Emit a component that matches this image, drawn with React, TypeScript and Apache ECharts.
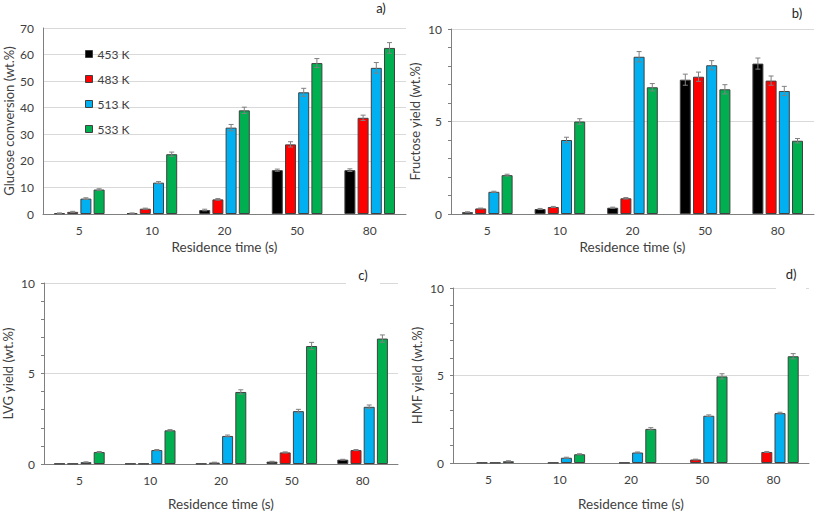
import React, { useEffect, useRef } from "react";
import * as echarts from "echarts";

const categories = ["5", "10", "20", "50", "80"];
const seriesNames = ["453 K", "483 K", "513 K", "533 K"];
const colors = ["#000000", "#ff0000", "#00b0f0", "#00b050"];

// a) Glucose conversion
const glucose453 = [0.3, 0.3, 1.5, 16.5, 16.5];
const glucose483 = [0.8, 2.0, 5.5, 26.2, 36.2];
const glucose513 = [5.8, 11.8, 32.5, 45.8, 55.0];
const glucose533 = [9.2, 22.5, 39.0, 56.8, 62.5];
const glucoseErr453 = [0.1, 0.1, 0.3, 0.4, 0.5];
const glucoseErr483 = [0.2, 0.2, 0.3, 1.0, 1.0];
const glucoseErr513 = [0.3, 0.4, 1.2, 1.5, 2.0];
const glucoseErr533 = [0.3, 0.8, 1.2, 1.7, 2.0];

// b) Fructose yield
const fructose453 = [0.1, 0.27, 0.34, 7.26, 8.13];
const fructose483 = [0.3, 0.38, 0.85, 7.42, 7.21];
const fructose513 = [1.2, 4.0, 8.5, 8.04, 6.65];
const fructose533 = [2.1, 5.0, 6.85, 6.74, 3.96];
const fructoseErr453 = [0.02, 0.03, 0.03, 0.3, 0.3];
const fructoseErr483 = [0.02, 0.03, 0.04, 0.25, 0.25];
const fructoseErr513 = [0.03, 0.15, 0.28, 0.25, 0.25];
const fructoseErr533 = [0.05, 0.15, 0.2, 0.25, 0.12];

// c) LVG yield
const lvg453 = [0.02, 0.02, 0.02, 0.13, 0.24];
const lvg483 = [0.02, 0.02, 0.08, 0.64, 0.77];
const lvg513 = [0.1, 0.77, 1.55, 2.92, 3.16];
const lvg533 = [0.66, 1.86, 3.98, 6.52, 6.93];
const lvgErr453 = [0, 0, 0, 0.02, 0.02];
const lvgErr483 = [0, 0, 0.02, 0.03, 0.03];
const lvgErr513 = [0.02, 0.03, 0.05, 0.1, 0.1];
const lvgErr533 = [0.03, 0.04, 0.12, 0.2, 0.2];

// d) HMF yield
const hmf453: (number | string)[] = ["-", "-", "-", "-", "-"];
const hmf483 = [0.02, 0.02, 0.02, 0.2, 0.63];
const hmf513 = [0.02, 0.3, 0.6, 2.7, 2.85];
const hmf533 = [0.1, 0.5, 1.95, 4.95, 6.1];
const hmfErr453 = [0, 0, 0, 0, 0];
const hmfErr483 = [0, 0, 0, 0.02, 0.03];
const hmfErr513 = [0, 0.03, 0.03, 0.05, 0.05];
const hmfErr533 = [0.03, 0.03, 0.07, 0.15, 0.15];

const yTicksA = { min: 0, max: 70, interval: 10 };
const yTicksOther = { min: 0, max: 10, interval: 5 };

const panelNames = [
  "Glucose conversion (wt.%)",
  "Fructose yield (wt.%)",
  "LVG yield (wt.%)",
  "HMF yield (wt.%)",
];
const panelLabels = ["a)", "b)", "c)", "d)"];

const panelValues = [
  [glucose453, glucose483, glucose513, glucose533],
  [fructose453, fructose483, fructose513, fructose533],
  [lvg453, lvg483, lvg513, lvg533],
  [hmf453, hmf483, hmf513, hmf533],
];
const panelErrors = [
  [glucoseErr453, glucoseErr483, glucoseErr513, glucoseErr533],
  [fructoseErr453, fructoseErr483, fructoseErr513, fructoseErr533],
  [lvgErr453, lvgErr483, lvgErr513, lvgErr533],
  [hmfErr453, hmfErr483, hmfErr513, hmfErr533],
];

const FONT = "Lato";
const BAR_W = 11;
const BAR_GAP = 0.2;

export default function App() {
  const ref = useRef<HTMLDivElement>(null);
  useEffect(() => {
    if (!ref.current) return;
    const chart = echarts.init(ref.current, null, { renderer: "svg" });

    const grids = [
      { left: 43, top: 28, width: 363, height: 186 },
      { left: 451, top: 29, width: 363, height: 185 },
      { left: 40, top: 283, width: 358, height: 183 },
      { left: 453, top: 288, width: 356, height: 182 },
    ];
    const xNameGaps = [26, 26, 33, 34];

    const xAxes = grids.map((_, i) => ({
      type: "category",
      gridIndex: i,
      data: categories,
      name: "Residence time (s)",
      nameLocation: "middle",
      nameGap: xNameGaps[i],
      nameTextStyle: { fontFamily: FONT, fontSize: 13.5, color: "#404040" },
      axisLine: { lineStyle: { color: "#7f7f7f", width: 1 } },
      axisTick: { show: false },
      axisLabel: { fontFamily: FONT, fontSize: 12, color: "#404040", margin: 10 },
    }));

    const yAxes = grids.map((_, i) => {
      const t = i === 0 ? yTicksA : yTicksOther;
      return {
        type: "value",
        gridIndex: i,
        min: t.min,
        max: t.max,
        interval: t.interval,
        name: panelNames[i],
        nameLocation: "middle",
        nameGap: i === 0 ? 28 : 30,
        nameTextStyle: { fontFamily: FONT, fontSize: 13, color: "#404040" },
        axisLine: { show: true, lineStyle: { color: "#7f7f7f", width: 1 } },
        axisTick: { show: i !== 0, length: 3, lineStyle: { color: "#7f7f7f" } },
        minorTick: {
          show: i !== 0,
          splitNumber: 5,
          length: 3,
          lineStyle: { color: "#7f7f7f" },
        },
        axisLabel: { fontFamily: FONT, fontSize: 12, color: "#404040", margin: 9 },
        splitLine: { show: true, lineStyle: { color: "#d9d9d9", width: 1 } },
      };
    });

    const series: any[] = [];
    for (let p = 0; p < 4; p++) {
      for (let s = 0; s < 4; s++) {
        series.push({
          type: "bar",
          name: seriesNames[s],
          xAxisIndex: p,
          yAxisIndex: p,
          data: panelValues[p][s],
          barWidth: BAR_W,
          barGap: BAR_GAP * 100 + "%",
          itemStyle: { color: colors[s], borderColor: "#404040", borderWidth: 1 },
          z: 2,
        });
      }
      for (let s = 0; s < 4; s++) {
        const vals = panelValues[p][s];
        const errs = panelErrors[p][s];
        const data = vals
          .map((v, k) => (typeof v === "number" ? [k, v, errs[k]] : null))
          .filter((d) => d !== null);
        series.push({
          type: "custom",
          xAxisIndex: p,
          yAxisIndex: p,
          encode: { x: 0, y: 1 },
          silent: true,
          z: 5,
          data,
          renderItem: (params: any, api: any) => {
            const k = api.value(0);
            const v = api.value(1);
            const e = api.value(2);
            if (!e) return null;
            const gap = BAR_W * BAR_GAP;
            const total = 4 * BAR_W + 3 * gap;
            const off = -total / 2 + BAR_W / 2 + s * (BAR_W + gap);
            const top = api.coord([k, v + e]);
            const bot = api.coord([k, v - e]);
            const x = top[0] + off;
            const cap = 2.5;
            const style = { stroke: "#808080", lineWidth: 1 };
            return {
              type: "group",
              children: [
                { type: "line", shape: { x1: x, y1: top[1], x2: x, y2: bot[1] }, style },
                { type: "line", shape: { x1: x - cap, y1: top[1], x2: x + cap, y2: top[1] }, style },
                { type: "line", shape: { x1: x - cap, y1: bot[1], x2: x + cap, y2: bot[1] }, style },
              ],
            };
          },
        });
      }
    }

    const labelPos = [
      [381, 8],
      [797, 13],
      [363, 275],
      [791, 274],
    ];

    chart.setOption({
      animation: false,
      backgroundColor: "#ffffff",
      grid: grids,
      xAxis: xAxes,
      yAxis: yAxes,
      legend: {
        left: 80,
        top: 43,
        orient: "vertical",
        itemWidth: 7,
        itemHeight: 7,
        itemGap: 13,
        icon: "rect",
        data: seriesNames,
        textStyle: { fontFamily: FONT, fontSize: 12, color: "#404040" },
        itemStyle: { borderColor: "#404040", borderWidth: 1 },
        selectedMode: false,
      },
      graphic: [
        { type: "rect", shape: { x: 346, y: 280, width: 34, height: 6 }, style: { fill: "#ffffff" }, z: 100 },
        { type: "rect", shape: { x: 776, y: 285, width: 30, height: 6 }, style: { fill: "#ffffff" }, z: 100 },
        ...panelLabels.map((t, i) => ({
          type: "text",
          x: labelPos[i][0],
          y: labelPos[i][1],
          z: 101,
          style: {
            text: t,
            fontFamily: FONT,
            fontSize: 13,
            fill: "#262626",
            textAlign: "center",
            textVerticalAlign: "middle",
          },
        })),
      ],
      series,
    });
    return () => chart.dispose();
  }, []);
  return (
    <div
      ref={ref}
      style={{ position: "fixed", left: 0, top: 0, width: 817, height: 512 }}
    />
  );
}
